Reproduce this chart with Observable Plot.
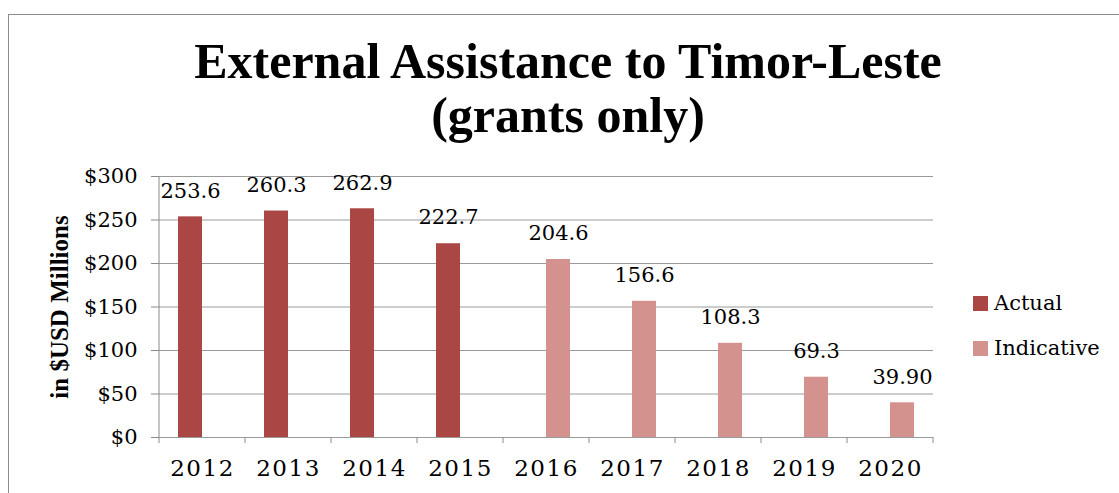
<!DOCTYPE html>
<html>
<head>
<meta charset="utf-8">
<script src="https://cdn.jsdelivr.net/npm/d3@7"></script>
<script src="https://cdn.jsdelivr.net/npm/@observablehq/plot@0.6"></script>
<style>
  html, body { margin: 0; padding: 0; background: #fff; width: 1119px; height: 493px; overflow: hidden; }
  #frame { position: absolute; left: 8px; top: 14px; width: 1120px; height: 500px; border: 1px solid #8c8c8c; box-sizing: border-box; }
  #title { position: absolute; left: 168px; width: 800px; top: 34px; text-align: center;
    font-family: "Liberation Serif", serif; font-weight: bold; font-size: 50px; line-height: 54px; color: #000; }
  #chart { position: absolute; left: 0; top: 150px; }
  #legend { position: absolute; left: 973px; top: 289px; font-family: "DejaVu Serif", serif; font-size: 21px; color: #000; }
  .item { display: flex; align-items: center; height: 28px; margin-bottom: 17px; }
  .sw { width: 15px; height: 15px; margin-right: 6px; }
</style>
</head>
<body>
<div id="frame"></div>
<div id="title">External Assistance to Timor-Leste<br>(grants only)</div>
<div id="chart"></div>
<div id="legend"></div>
<script>
const years = ["2012", "2013", "2014", "2015", "2016", "2017", "2018", "2019", "2020"];
const values = [253.6, 260.3, 262.9, 222.7, 204.6, 156.6, 108.3, 69.3, 39.9];
const valueLabels = ["253.6", "260.3", "262.9", "222.7", "204.6", "156.6", "108.3", "69.3", "39.90"];
const status = ["Actual", "Actual", "Actual", "Actual", "Indicative", "Indicative", "Indicative", "Indicative", "Indicative"];
const seriesNames = ["Actual", "Indicative"];
const seriesColors = ["#AA4643", "#D4928F"];
const yTicks = [0, 50, 100, 150, 200, 250, 300];
const yTitle = "in $USD Millions";

const data = years.map((y, i) => ({year: y, value: values[i], label: valueLabels[i], series: status[i]}));

const plot = Plot.plot({
  width: 950,
  height: 343,
  marginLeft: 158,
  marginRight: 17,
  marginTop: 26,
  marginBottom: 56,
  style: {fontFamily: "DejaVu Serif, serif", fontSize: "21px", color: "#8a8a8a", background: "transparent", overflow: "visible"},
  facet: {data, x: "year"},
  fx: {domain: years, padding: 0, tickSize: 0, tickPadding: 22, label: null},
  x: {domain: seriesNames, paddingInner: 0, paddingOuter: 0.76, axis: null},
  y: {domain: [0, 300], ticks: yTicks, tickSize: 8, tickPadding: 14, tickFormat: d => "$" + d,
      label: yTitle, labelAnchor: "center", labelOffset: 109},
  color: {domain: seriesNames, range: seriesColors},
  marks: [
    Plot.ruleY(yTicks, {stroke: "#9a9a9a", strokeWidth: 1}),
    Plot.barY(data, {x: "series", y: "value", fill: "series"}),
    Plot.text(data, {x: "series", y: "value", text: "label", dy: -26, fill: "#000", fontSize: 21})
  ]
});
document.getElementById("chart").appendChild(plot);

const svg = d3.select(plot);
svg.selectAll("text").attr("fill", "#000");
svg.selectAll('[aria-label="fx-axis"] text, [aria-label="fx-axis tick label"] text').attr("font-size", "23px").attr("letter-spacing", "1.5px");
// y-axis title: bold, without arrow
svg.selectAll("text").filter(function() { return this.textContent.indexOf("USD") >= 0; })
  .each(function() {
    const t = d3.select(this);
    t.selectAll("tspan").remove();
    t.text(yTitle);
  })
  .attr("font-family", "Liberation Serif, serif").attr("font-weight", "bold").attr("font-size", "25px");

// axis line and category boundary ticks drawn from the Plot scales
const fx = plot.scale("fx");
const ys = plot.scale("y");
const y0 = ys.apply(0), yTop = ys.apply(300);
const bounds = years.map(y => fx.apply(y)).concat([fx.apply(years[years.length - 1]) + fx.bandwidth]);
const g = svg.append("g").attr("stroke", "#8a8a8a").attr("stroke-width", 1);
g.append("line").attr("x1", bounds[0]).attr("x2", bounds[0]).attr("y1", yTop).attr("y2", y0);
bounds.forEach(b => g.append("line").attr("x1", b).attr("x2", b).attr("y1", y0).attr("y2", y0 + 6));

// legend
const leg = d3.select("#legend");
seriesNames.forEach((s, i) => {
  const it = leg.append("div").attr("class", "item");
  it.append("div").attr("class", "sw").style("background", seriesColors[i]);
  it.append("span").text(s);
});
</script>
</body>
</html>
